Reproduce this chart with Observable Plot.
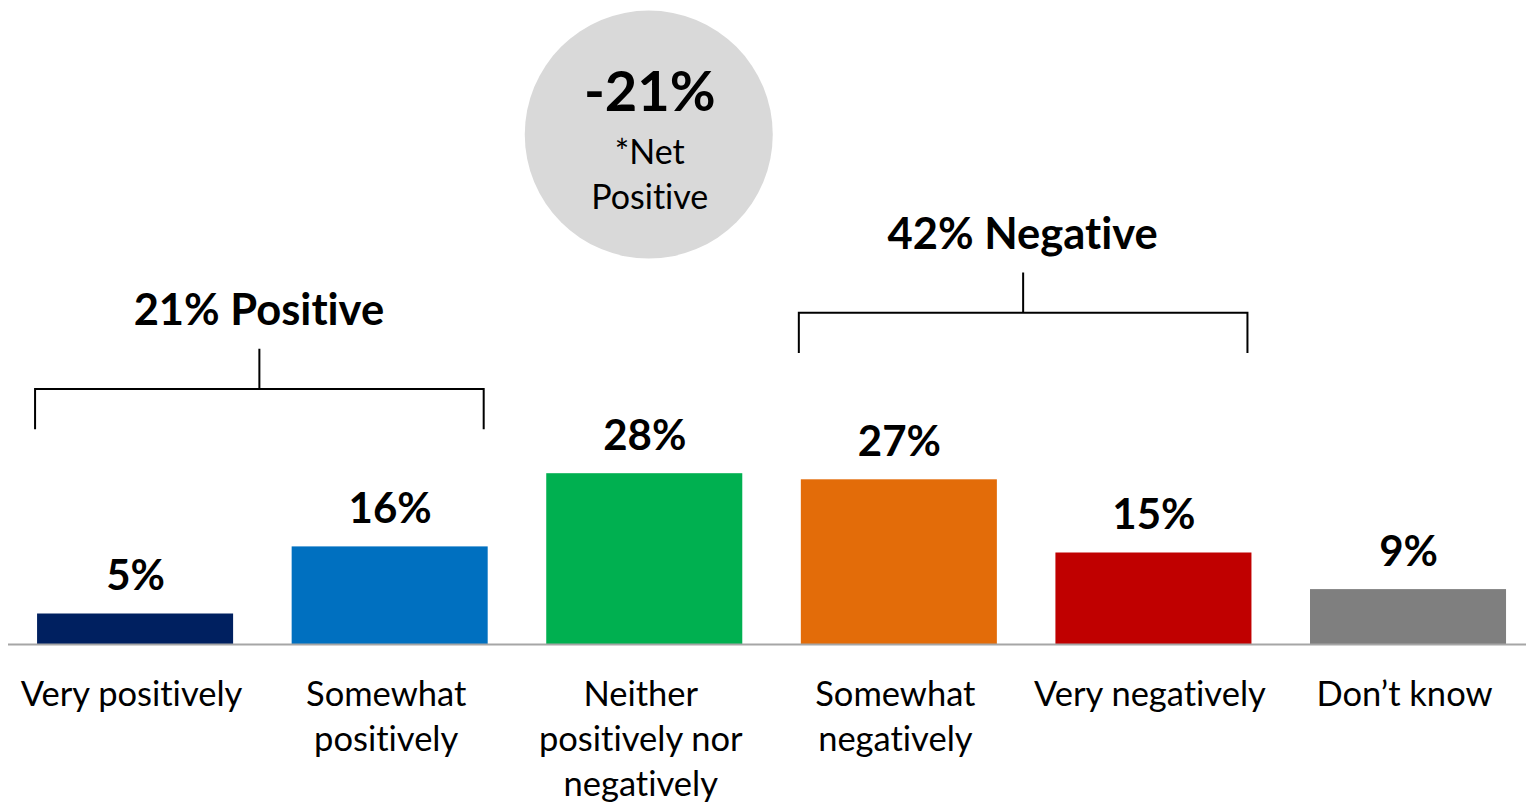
<!DOCTYPE html>
<html>
<head>
<meta charset="utf-8">
<script src="https://cdn.jsdelivr.net/npm/d3@7"></script>
<script src="https://cdn.jsdelivr.net/npm/@observablehq/plot@0.6"></script>
<style>
  html, body { margin: 0; padding: 0; background: #fff; }
  #chart svg { display: block; font-variant-ligatures: none; }
  #chart svg text { font-variant-ligatures: none; }
</style>
</head>
<body>
<div id="chart"></div>
<script>
// ---- data ----
const categories = ["Very positively", "Somewhat positively", "Neither positively nor negatively", "Somewhat negatively", "Very negatively", "Don’t know"];
const tickLabels = ["Very positively", "Somewhat\npositively", "Neither\npositively nor\nnegatively", "Somewhat\nnegatively", "Very negatively", "Don’t know"];
const values = [5, 16, 28, 27, 15, 9];
const barColors = ["#002060", "#0070C0", "#00B050", "#E36C09", "#C00000", "#7F7F7F"];

const groupLabels = ["21% Positive", "42% Negative"];
const groupFrom = ["Very positively", "Somewhat negatively"];
const groupTo = ["Somewhat positively", "Very negatively"];
const groupLevel = [41.8, 54.3];   // bracket height, in % units

const netValue = "-21%";
const netLabel = "*Net\nPositive";
const netCategory = "Neither positively nor negatively";
const netLevel = 83.6;

// ---- build ----
const FONT = "Lato, 'Open Sans', sans-serif";
const bars = categories.map((c, i) => ({category: c, value: values[i], color: barColors[i]}));
const groups = groupLabels.map((g, i) => ({label: g, from: groupFrom[i], to: groupTo[i], level: groupLevel[i]}));

const pxPerUnit = 6.1;
const baseline = 644;
const H = 802;
const tick = 6.6;

function brackets(index, scales, values, dimensions, context) {
  const x = scales.x, y = scales.y, bw = x.bandwidth();
  const g = d3.create("svg:g").attr("stroke", "#000").attr("stroke-width", 2).attr("fill", "none");
  for (const d of groups) {
    const x1 = x(d.from) - 2, x2 = x(d.to) + bw - 4;
    const yl = y(d.level), yt = y(d.level - tick), ys = y(d.level + tick);
    const xm = (x1 + x2) / 2;
    g.append("path").attr("d", `M${x1},${yt}V${yl}H${x2}V${yt}M${xm},${yl}V${ys}`);
  }
  return g.node();
}

const chart = Plot.plot({
  width: 1526,
  height: H,
  marginLeft: 0,
  marginRight: 0,
  marginTop: 0,
  marginBottom: H - baseline,
  style: {fontFamily: FONT, background: "#fff", color: "#000"},
  x: {domain: categories, paddingInner: 0.23, paddingOuter: 0.112, align: 0.65, round: false, axis: null},
  y: {domain: [0, baseline / pxPerUnit], axis: null},
  marks: [
    Plot.barY(bars, {x: "category", y: "value", fill: "color"}),
    Plot.ruleY([0], {stroke: "#A6A6A6", strokeWidth: 2, insetLeft: 8}),
    Plot.text(bars, {x: "category", y: "value", text: d => d.value + "%", fontSize: 42, fontWeight: "bold", lineAnchor: "bottom", dy: -24, fill: "#000"}),
    Plot.axisX({
      domain: categories,
      tickFormat: (d) => tickLabels[categories.indexOf(d)],
      tickSize: 0, tickPadding: 30, fontSize: 34.5, lineHeight: 1.3, label: null, fill: "#000", dx: -4
    }),
    brackets,
    Plot.text(groups, {x: d => d.from, y: d => d.level + tick, text: "label", fontSize: 43.5, fontWeight: "bold", lineAnchor: "bottom", dy: -24, fill: "#000",
      render: (index, scales, values, dimensions, context, next) => {
        const x = scales.x, bw = x.bandwidth();
        const X = Array.from(groups, d => (x(d.from) + x(d.to) + bw) / 2 - bw / 2 - 4);
        return next(index, scales, {...values, x: X}, dimensions, context);
      }}),
    Plot.dot([{category: netCategory, level: netLevel}], {x: "category", y: "level", r: 124, fill: "#D9D9D9", dx: 4}),
    Plot.text([netValue], {x: () => netCategory, y: () => netLevel, text: d => d, fontSize: 56, fontWeight: "bold", lineAnchor: "bottom", dy: -24, dx: 5, fill: "#000"}),
    Plot.text([netLabel], {x: () => netCategory, y: () => netLevel, text: d => d, fontSize: 34, lineAnchor: "top", dy: -2, dx: 5, lineHeight: 1.32, fill: "#000"})
  ]
});
document.getElementById("chart").append(chart);
</script>
</body>
</html>
